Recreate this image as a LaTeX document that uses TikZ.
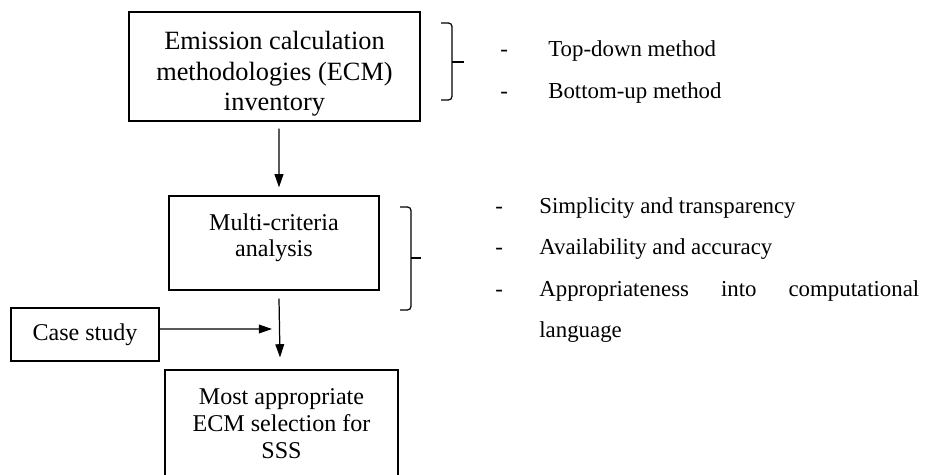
\documentclass[tikz,border=0pt]{standalone}
\usepackage{fontspec}
\setmainfont{Liberation Serif}
\usetikzlibrary{arrows.meta,
                positioning}

\begin{document}
\begin{tikzpicture}[
x=0.02cm, y=-0.02cm,
every node/.style = {font=\fontsize{13.7}{15.6}\selectfont, inner sep=0pt},
box/.style = {draw, line width=0.7pt, align=center},
item/.style = {anchor=base west, font=\fontsize{13}{15}\selectfont},
arr/.style = {line width=0.7pt, -{Triangle[length=7.5pt,width=5pt]}},
brk/.style = {line width=0.7pt, rounded corners=2pt}
                        ]
    \useasboundingbox (0,0) rectangle (950,475);
    \clip (0,0) rectangle (950,475);
    % flow boxes
    \node (ecm)[box, minimum width=5.82cm, minimum height=2.18cm,
                font=\fontsize{15}{17.6}\selectfont,
                text height=1.85cm, text depth=0.07cm] at (274.5,66.5)
        {Emission calculation\\ methodologies (ECM)\\ inventory};
    \node (mca)[box, minimum width=4.2cm, minimum height=1.88cm,
                font=\fontsize{13.7}{14.8}\selectfont,
                text height=0.63cm, text depth=0.07cm] at (274,243)
        {Multi-criteria\\ analysis};
    \node (case)[box, minimum width=2.96cm, minimum height=1.06cm] at (85,334.5)
        {Case study};
    \node (sel)[box, minimum width=4.66cm, minimum height=2.16cm,
                text height=1.47cm, text depth=0.07cm] at (281.5,424)
        {Most appropriate\\ ECM selection for\\ SSS};
    \coordinate (join) at (272,329);

    \draw[arr] ([xshift=0.09cm, yshift=-0.14cm]ecm.south) -- ([xshift=0.1cm, yshift=0.16cm]mca.north);
    \draw[arr] ([xshift=0.1cm, yshift=-0.16cm]mca.south) -- ([xshift=-0.03cm, yshift=0.24cm]sel.north);
    \draw[arr] ([yshift=0.11cm]case.east) -- (join);

    % brackets
    \draw[brk] (441,23) -- (452,23) -- (452,100) -- (441,100);
    \draw[line width=0.7pt] (452,62) -- (464,62);
    \draw[brk] (400,207) -- (411,207) -- (411,310) -- (400,310);
    \draw[line width=0.7pt] (411,258) -- (421,258);

    % lists
    \node (td)[item] at (500,57) {\makebox[0.96cm][l]{-}Top-down method};
    \node (bu)[item] at (500,99) {\makebox[0.96cm][l]{-}Bottom-up method};
    \node (st)[item] at (495,214) {\makebox[0.88cm][l]{-}Simplicity and transparency};
    \node (aa)[item] at (495,255) {\makebox[0.88cm][l]{-}Availability and accuracy};
    \node (ap)[item] at (495,297)
        {\makebox[0.88cm][l]{-}\makebox[7.6cm][s]{Appropriateness into computational}};
    \node (lang)[item] at (539,338) {language};
\end{tikzpicture}
\end{document}
